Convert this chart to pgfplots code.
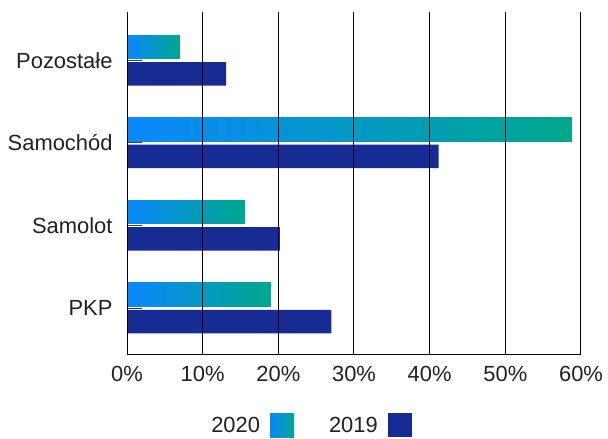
\documentclass[border=0pt]{standalone}
\usepackage{fontspec}
\setmainfont{Liberation Sans}
\usepackage{pgfplots}
\pgfplotsset{compat=1.18}
\definecolor{gA}{RGB}{10,136,255}
\definecolor{gB}{RGB}{0,168,140}
\definecolor{dblue}{RGB}{23,43,148}
\definecolor{txt}{RGB}{33,33,33}
\begin{document}
\begin{tikzpicture}
\useasboundingbox (0bp,0bp) rectangle (608bp,439bp);
\begin{axis}[
  at={(127bp,85bp)}, anchor=south west,
  scale only axis, width=454bp, height=342bp,
  xbar,
  xmin=0, xmax=60,
  ymin=-0.557, ymax=3.585,
  axis lines*=left,
  axis line style={black, line width=1bp},
  axis on top,
  xtick={0,10,...,60},
  xticklabels={0\%,10\%,20\%,30\%,40\%,50\%,60\%},
  ytick={0,1,2,3},
  yticklabels={PKP,Samolot,Samochód,Pozostałe},
  xmajorgrids, major grid style={black, line width=1bp},
  xtick style={draw=none},
  ytick style={draw=darkgray, line width=1bp},
  tick align=inside, major tick length=15bp,
  tick label style={font=\fontsize{22}{26}\selectfont, text=txt},
  xticklabel style={yshift=-8.5bp},
  yticklabel style={xshift=-11bp},
  legend columns=2, legend plot pos=right,
  legend style={draw=none, at={(0.4065,-0.209)}, anchor=center,
    font=\fontsize{22}{26}\selectfont, text=txt, nodes={inner sep=0bp},
    /tikz/every odd column/.style={column sep=10bp},
    /tikz/every even column/.style={column sep=35bp}},
  legend image code/.code={\fill[#1] (0bp,-12bp) rectangle (24bp,12bp);},
  clip=false,
]
% 2020 (gradient, one plot per bar so that each bar gets its own gradient)
\addplot[forget plot, bar width=23.5bp, bar shift=13.5bp, draw=none, left color=gA, right color=gB]
  coordinates {(19.0,0)};
\addplot[forget plot, bar width=23.5bp, bar shift=13.5bp, draw=none, left color=gA, right color=gB]
  coordinates {(15.6,1)};
\addplot[forget plot, bar width=23.5bp, bar shift=13.5bp, draw=none, left color=gA, right color=gB]
  coordinates {(58.8,2)};
\addplot[forget plot, bar width=23.5bp, bar shift=13.5bp, draw=none, left color=gA, right color=gB]
  coordinates {(7.0,3)};
\addlegendimage{draw=none, legend image code/.code={\shade[draw=none, left color=gA, right color=gB] (0bp,-12bp) rectangle (24bp,12bp);}}
\addlegendentry{2020}
% 2019
\addplot[bar width=23.5bp, bar shift=-13.5bp, draw=none, fill=dblue]
  coordinates {(27.0,0) (20.2,1) (41.2,2) (13.1,3)};
\addlegendentry{2019}
\end{axis}
\end{tikzpicture}
\end{document}
